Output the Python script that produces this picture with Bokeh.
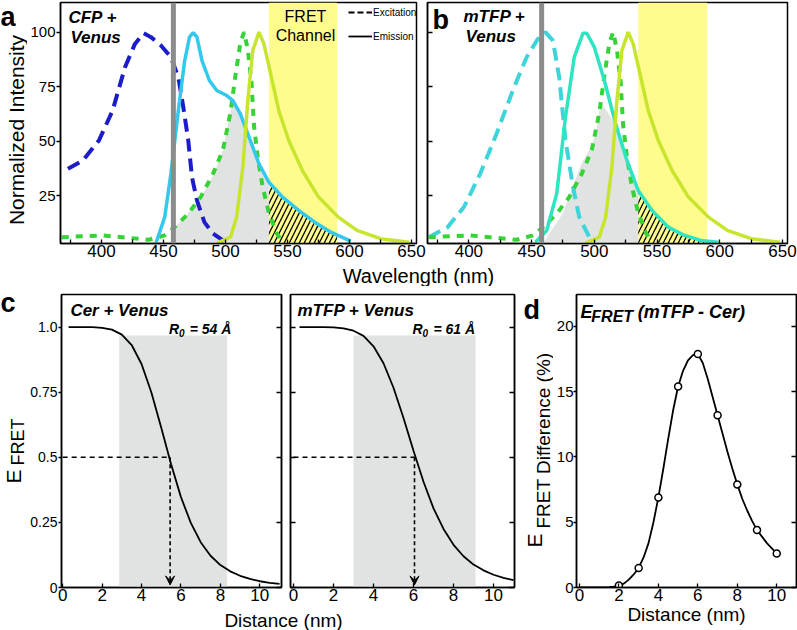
import math
from bokeh.plotting import figure
from bokeh.layouts import row, column
from bokeh.models import (Range1d, FixedTicker, LinearAxis, Label, Legend, LegendItem,
                          BoxAnnotation, Span, Arrow, VeeHead, CustomJSTickFormatter)
from bokeh.embed import file_html
from bokeh.resources import INLINE

FONT = "Liberation Sans"
NAN = float("nan")

# ---------------- data ----------------
cfp_ex_nm = [373, 385, 398, 409, 419, 427, 434, 440, 448, 456, 462, 466, 470, 473, 477, 483, 490, 498, 501]
cfp_ex_val = [37.3, 41.1, 50.3, 64.0, 83.9, 94.6, 99.5, 97.7, 93.9, 88.5, 79.3, 65.6, 50.3, 33.4, 22.8, 12.8, 7.5, 4.4, 3.6]

cfp_em_nm = [444, 451, 456, 462, 467, 471, 474, 477, 481, 487, 493, 501, 506, 512, 520, 527, 535, 546, 559, 572, 585, 601]
cfp_em_val = [3.2, 15.1, 35.0, 64.0, 86.5, 97.7, 99.8, 97.7, 87.0, 77.8, 73.2, 70.9, 68.6, 62.5, 50.3, 39.6, 31.1, 24.3, 18.2, 12.8, 8.2, 4.1]

venus_ex_nm = [368, 385, 401, 422, 438, 451, 459, 470, 480, 490, 498, 504, 508, 512, 515, 518, 521, 523, 526, 530, 535, 541, 546]
venus_ex_val = [5.9, 6.3, 6.7, 5.6, 4.7, 6.7, 10.5, 16.7, 24.3, 35.0, 46.0, 63.0, 80.0, 95.0, 100.0, 92.0, 77.0, 57.0, 42.6, 28.9, 17.0, 8.0, 3.6]

venus_em_nm = [493, 504, 509, 514, 518, 522, 527, 531, 537, 543, 551, 562, 575, 591, 606, 625, 648]
venus_em_val = [3.2, 5.9, 15.1, 38.0, 68.6, 91.6, 100.0, 94.6, 79.3, 64.0, 50.3, 36.5, 24.3, 15.1, 9.0, 5.2, 3.6]

mtfp_ex_nm = [368, 383, 396, 409, 422, 436, 446, 455, 461, 467, 472, 477, 483, 488, 496, 501]
mtfp_ex_val = [5.9, 10.5, 19.7, 35.0, 53.3, 74.7, 88.5, 96.9, 100.0, 96.1, 79.3, 50.3, 28.9, 15.1, 5.9, 4.1]

mtfp_em_nm = [453, 462, 470, 477, 484, 491, 494, 500, 508, 517, 526, 535, 546, 559, 572, 585, 599]
mtfp_em_val = [3.6, 9.0, 25.8, 61.0, 88.5, 99.5, 99.5, 93.1, 77.8, 57.9, 41.1, 27.3, 18.2, 10.5, 6.7, 4.4, 3.6]

overlap_a_nm = [458, 465, 470, 480, 490, 498, 504, 506, 512, 520, 527, 535]
overlap_a_val = [9.5, 14, 17, 24, 34, 46, 64, 68.6, 62.5, 50.3, 39.6, 29]
bleed_a_nm = [535, 546, 559, 572, 585, 590]
bleed_a_val = [31.1, 24.3, 18.2, 12.8, 8.2, 6.8]

overlap_b_nm = [458, 467, 475, 482, 490, 496, 501, 505, 512, 519, 527, 535]
overlap_b_val = [2, 10, 17, 28, 40, 46, 53, 68, 62, 55, 40, 28]
bleed_b_nm = [535, 546, 559, 572, 585, 590]
bleed_b_val = [27.3, 18.2, 10.5, 6.7, 4.4, 4.0]

laser_nm = 458
fret_channel = (535, 590)
wl_ticks = [400, 450, 500, 550, 600, 650]
wl_minor = [375, 425, 475, 525, 575, 625]
int_ticks = [25, 50, 75, 100]

dist = [0.3, 0.5, 1.0, 1.5, 2.0, 2.5, 3.0, 3.5, 4.0, 4.5, 5.0, 5.5, 6.0, 6.5, 7.0, 7.5, 8.0, 8.5, 9.0, 9.5, 10.0, 10.5, 11.0]
eff_cer = [1.000, 1.000, 1.000, 0.9995, 0.997, 0.990, 0.971, 0.931, 0.858, 0.749, 0.613, 0.473, 0.347, 0.248, 0.174, 0.122, 0.086, 0.062, 0.045, 0.033, 0.024, 0.018, 0.014]
eff_mtfp = [1.000, 1.000, 1.000, 1.000, 0.999, 0.995, 0.986, 0.966, 0.926, 0.861, 0.767, 0.651, 0.525, 0.406, 0.304, 0.225, 0.164, 0.120, 0.088, 0.066, 0.049, 0.037, 0.028]
half_eff = 0.5
half_dist_cer = 5.45
half_dist_mtfp = 6.05
band_cer = (2.87, 8.34)
band_mtfp = (3.0, 9.1)
band_top = 0.968
dist_ticks = [0, 2, 4, 6, 8, 10]
eff_ticks = [0, 0.25, 0.5, 0.75, 1.0]

diff_pts_x = [2, 3, 4, 5, 6, 7, 8, 9, 10]
diff_pts_y = [0.15, 1.5, 6.9, 15.4, 17.9, 13.2, 7.9, 4.4, 2.6]
diff_curve_x = [0, 0.5, 1, 1.5, 1.75, 2, 2.25, 2.5, 2.75, 3, 3.25, 3.5, 3.75, 4, 4.25, 4.5, 4.75, 5, 5.25, 5.5,
                5.75, 6, 6.25, 6.5, 6.75, 7, 7.25, 7.5, 7.75, 8, 8.25, 8.5, 8.75, 9, 9.25, 9.5, 9.75, 10]
diff_curve_y = [0, 0, 0, 0.02, 0.06, 0.15, 0.3, 0.6, 1.0, 1.5, 2.3, 3.4, 5.0, 6.9, 9.1, 11.4, 13.6, 15.4, 16.6, 17.4,
                17.8, 17.9, 17.2, 16.0, 14.6, 13.2, 11.8, 10.4, 9.1, 7.9, 6.8, 5.9, 5.1, 4.4, 3.9, 3.4, 3.0, 2.6]
diff_ticks = [0, 5, 10, 15, 20]

# ---------------- colours ----------------
C_BLUE = "#1C1CCB"
C_CYAN = "#33C8EC"
C_GREEN = "#35D335"
C_YG = "#C8E52E"
C_TURQ = "#3DD5DA"
C_TEAL = "#2EE5C2"
C_GREYFILL = "#E1E2E2"
C_YELLOW = "#FFFB8D"
C_LASER = "#8C8C8C"

# ---------------- layout geometry (page pixels of each frame) ----------------
# spec: (frame left, top, right, bottom, x0, x1, y0, y1)
WL_RANGE = (367, 654)
INT_RANGE = (3.0, 113.6)
EFF_RANGE = (0, 1.125)
SPEC_A = (57, 2, 416, 243) + WL_RANGE + INT_RANGE
SPEC_B = (427, 2, 787, 243) + WL_RANGE + INT_RANGE
SPEC_C1 = (58, 294, 281, 587, -0.06, 11.1) + EFF_RANGE
SPEC_C2 = (290, 294, 514, 587, -0.15, 11.05) + EFF_RANGE
SPEC_D = (573, 294, 796, 587, -0.15, 11.0, 0, 22.45)


def strip_spec(left, top, right, bottom):
    return (left, top, right, bottom, 0, right - left, 0, bottom - top)


# text strips: their frames line up with the frames of their row neighbours
SPEC_SA = strip_spec(0, 2, 27, 243)
SPEC_ST = strip_spec(0, 263, 797, 286)
SPEC_SCL = strip_spec(0, 294, 27, 587)
SPEC_SC = strip_spec(0, 608, 518, 630)
SPEC_SDL = strip_spec(518, 294, 553, 587)

BASE_SHIFT = 0.31  # rendered baseline sits this many em below the label anchor


def dx(spec, px):
    L, T, R, B, x0, x1, y0, y1 = spec
    return x0 + (px - L) * (x1 - x0) / (R - L)


def dy(spec, py):
    L, T, R, B, x0, x1, y0, y1 = spec
    return y0 + (B - py) * (y1 - y0) / (B - T)


def make_fig(spec, width, height, bl, br, bt, bb):
    L, T, R, B, x0, x1, y0, y1 = spec
    p = figure(width=width, height=height, x_range=Range1d(x0, x1), y_range=Range1d(y0, y1),
               output_backend="svg", toolbar_location=None,
               min_border_left=bl, min_border_right=br, min_border_top=bt, min_border_bottom=bb)
    p.grid.visible = False
    p.outline_line_color = "black"
    p.outline_line_width = 1.5
    p.outline_line_alpha = 1
    p.background_fill_color = "white"
    p.border_fill_color = "white"
    return p


def make_strip(spec, width, height, bt=0, bb=0):
    L, T, R, B, x0, x1, y0, y1 = spec
    s = figure(width=width, height=height, x_range=Range1d(x0, x1), y_range=Range1d(y0, y1),
               x_axis_type=None, y_axis_type=None, output_backend="svg", toolbar_location=None,
               min_border_left=0, min_border_right=0, min_border_top=bt, min_border_bottom=bb,
               outline_line_color=None)
    s.grid.visible = False
    s.background_fill_color = "white"
    s.border_fill_color = "white"
    return s


def style_axis(ax, ticks, minor=None, labels=True, tick_in=0, tick_out=4, fs="16px", fmt=None, standoff=1):
    ax.ticker = FixedTicker(ticks=ticks, minor_ticks=minor or [])
    ax.major_tick_in = tick_in
    ax.major_tick_out = tick_out
    ax.minor_tick_in = tick_in if minor else 0
    ax.minor_tick_out = tick_out if minor else 0
    ax.major_tick_line_width = 1.3
    ax.minor_tick_line_width = 1.3
    ax.major_tick_line_color = "black"
    ax.minor_tick_line_color = "black"
    ax.axis_line_width = 1.5
    ax.axis_line_color = "black"
    ax.major_label_text_font = FONT
    ax.major_label_text_font_size = fs
    ax.major_label_text_color = "black"
    ax.major_label_standoff = standoff if labels else 0
    if not labels:
        ax.formatter = CustomJSTickFormatter(code="return ''")
    elif fmt is not None:
        ax.formatter = CustomJSTickFormatter(code=fmt)


def add_side_ticks(p, side, ticks):
    ax = LinearAxis()
    p.add_layout(ax, side)
    style_axis(ax, ticks, labels=False, tick_in=5, tick_out=0)
    return ax


def lab(p, spec, text, px, py, size, style="normal", rotated=False, align="left"):
    # (px, py): wanted baseline position in page pixels
    if rotated:
        px = px - BASE_SHIFT * size
    else:
        py = py - BASE_SHIFT * size
    p.add_layout(Label(x=dx(spec, px), y=dy(spec, py), text=text,
                       angle=math.pi / 2 if rotated else 0,
                       text_align=align, text_baseline="alphabetic", text_line_height=1.0,
                       text_font=FONT, text_font_size=f"{size}px", text_font_style=style,
                       text_color="black"))


def spectra_panel(p, don_ex_x, don_ex_y, don_ex_c, don_em_x, don_em_y, don_em_c,
                  ov_x, ov_y, bl_x, bl_y):
    p.add_layout(BoxAnnotation(left=fret_channel[0], right=fret_channel[1], fill_color=C_YELLOW,
                               fill_alpha=1, line_color=None, level="underlay"))
    p.varea(x=ov_x, y1=0, y2=ov_y, fill_color=C_GREYFILL)
    p.varea(x=bl_x, y1=0, y2=bl_y, fill_color=None, fill_alpha=0, hatch_pattern="/",
            hatch_color="black", hatch_scale=10, hatch_weight=1.3)
    p.line(don_ex_x, don_ex_y, line_color=don_ex_c, line_width=4, line_dash="13 7")
    p.line(venus_ex_nm, venus_ex_val, line_color=C_GREEN, line_width=4, line_dash="7 7")
    p.line(don_em_x, don_em_y, line_color=don_em_c, line_width=3.5)
    p.line(venus_em_nm, venus_em_val, line_color=C_YG, line_width=3.5)
    p.add_layout(Span(location=laser_nm, dimension="height", line_color=C_LASER, line_width=5))


# ---------------- row 1 ----------------
sa = make_strip(SPEC_SA, 27, 263, bt=2, bb=20)
lab(sa, SPEC_SA, "a", 0, 24.5, 27, "bold")
lab(sa, SPEC_SA, "Normalized Intensity", 22.3, 129.5, 21, rotated=True, align="center")

pa = make_fig(SPEC_A, 399, 263, 30, 10, 2, 20)
style_axis(pa.xaxis[0], wl_ticks, wl_minor, tick_in=4, tick_out=0, fs="17px")
style_axis(pa.yaxis[0], int_ticks, tick_in=0, tick_out=4, fs="15px")
spectra_panel(pa, cfp_ex_nm, cfp_ex_val, C_BLUE, cfp_em_nm, cfp_em_val, C_CYAN,
              overlap_a_nm, overlap_a_val, bleed_a_nm, bleed_a_val)
lab(pa, SPEC_A, "CFP +", 65, 22, 17, "bold italic")
lab(pa, SPEC_A, "Venus", 67, 42, 17, "bold italic")
lab(pa, SPEC_A, "FRET", 304, 21, 16, align="center")
lab(pa, SPEC_A, "Channel", 304, 40, 16, align="center")
ex_proxy = pa.line(x=[NAN, NAN], y=[NAN, NAN], line_color="black", line_width=1.8, line_dash="6 3")
em_proxy = pa.line(x=[NAN, NAN], y=[NAN, NAN], line_color="black", line_width=1.8)
leg = Legend(items=[LegendItem(label="Excitation", renderers=[ex_proxy]),
                    LegendItem(label="Emission", renderers=[em_proxy])],
             location=(345 - 57, 243 - 2 - 43), glyph_width=24, glyph_height=18, label_height=18,
             spacing=6, padding=0, margin=0, label_standoff=1, label_text_font=FONT,
             label_text_font_size="10px", label_text_color="black",
             border_line_color=None, background_fill_alpha=0)
pa.add_layout(leg)

pb = make_fig(SPEC_B, 371, 263, 1, 10, 2, 20)
style_axis(pb.xaxis[0], wl_ticks, wl_minor, tick_in=4, tick_out=0, fs="17px")
style_axis(pb.yaxis[0], int_ticks, labels=False, tick_in=5, tick_out=0)
spectra_panel(pb, mtfp_ex_nm, mtfp_ex_val, C_TURQ, mtfp_em_nm, mtfp_em_val, C_TEAL,
              overlap_b_nm, overlap_b_val, bleed_b_nm, bleed_b_val)
lab(pb, SPEC_B, "b", 432, 27.5, 27, "bold")
lab(pb, SPEC_B, "mTFP +", 463, 21, 17, "bold italic")
lab(pb, SPEC_B, "Venus", 465, 41, 17, "bold italic")

st = make_strip(SPEC_ST, 797, 23)
lab(st, SPEC_ST, "Wavelength (nm)", 418, 281.5, 20, align="center")

# ---------------- panels c ----------------
eff_fmt = "return tick == 0 ? '0' : (tick == 1 ? '1.0' : tick.toString());"


def efficiency_panel(p, spec, eff, half_d, band, name, r0, name_px, r_px, labels_left):
    style_axis(p.xaxis[0], dist_ticks, tick_in=4, tick_out=0, fs="17px")
    if labels_left:
        style_axis(p.yaxis[0], eff_ticks, tick_in=0, tick_out=3, fs="14px", fmt=eff_fmt)
    else:
        style_axis(p.yaxis[0], eff_ticks, labels=False, tick_in=5, tick_out=0)
    add_side_ticks(p, "right", eff_ticks)
    p.add_layout(BoxAnnotation(left=band[0], right=band[1], bottom=0, top=band_top,
                               fill_color=C_GREYFILL, fill_alpha=1, line_color=None, level="underlay"))
    p.line([0, half_d], [half_eff, half_eff], line_color="black", line_width=1.4, line_dash="5 4")
    p.add_layout(Arrow(end=VeeHead(size=9, fill_color="black", line_color="black", line_width=1),
                       x_start=half_d, y_start=half_eff, x_end=half_d, y_end=0.01,
                       line_color="black", line_width=1.6, line_dash="4 3"))
    p.line(dist, eff, line_color="black", line_width=1.8)
    lab(p, spec, name, name_px, 315, 17, "bold italic")
    lab(p, spec, "R", r_px, 333, 14, "bold italic")
    lab(p, spec, "0", r_px + 10, 336, 10, "bold italic")
    lab(p, spec, r0, r_px + 21, 333, 14, "bold italic")


scl = make_strip(SPEC_SCL, 27, 322, bt=8, bb=21)
lab(scl, SPEC_SCL, "c", 0, 311, 27, "bold")
lab(scl, SPEC_SCL, "E", 19.5, 483, 21, rotated=True)
lab(scl, SPEC_SCL, "FRET", 23, 465, 18, rotated=True)

c1 = make_fig(SPEC_C1, 258, 322, 31, 4, 8, 21)
efficiency_panel(c1, SPEC_C1, eff_cer, half_dist_cer, band_cer, "Cer + Venus", "= 54 Å", 67, 167, True)

c2 = make_fig(SPEC_C2, 233, 322, 5, 4, 8, 21)
efficiency_panel(c2, SPEC_C2, eff_mtfp, half_dist_mtfp, band_mtfp, "mTFP + Venus", "= 61 Å", 297, 412, False)

sc = make_strip(SPEC_SC, 518, 22)
lab(sc, SPEC_SC, "Distance (nm)", 283, 625.5, 19, align="center")

# ---------------- panel d ----------------
sdl = make_strip(SPEC_SDL, 35, 344, bt=8, bb=43)
lab(sdl, SPEC_SDL, "d", 523, 318, 27, "bold")
lab(sdl, SPEC_SDL, "E", 541, 547, 21, rotated=True)
lab(sdl, SPEC_SDL, "FRET Difference (%)", 549, 528, 19, rotated=True)

pd_ = make_fig(SPEC_D, 244, 344, 20, 1, 8, 43)
style_axis(pd_.xaxis[0], dist_ticks, tick_in=4, tick_out=0, fs="17px")
style_axis(pd_.yaxis[0], diff_ticks, tick_in=0, tick_out=3, fs="15px", standoff=0)
add_side_ticks(pd_, "right", diff_ticks)
pd_.xaxis.axis_label = "Distance (nm)"
pd_.xaxis.axis_label_text_font = FONT
pd_.xaxis.axis_label_text_font_size = "19px"
pd_.xaxis.axis_label_text_font_style = "normal"
pd_.xaxis.axis_label_text_color = "black"
pd_.xaxis.axis_label_standoff = 0
pd_.line(diff_curve_x, diff_curve_y, line_color="black", line_width=1.8)
pd_.scatter(diff_pts_x, diff_pts_y, marker="circle", size=7, fill_color="white",
            line_color="black", line_width=1.5)
lab(pd_, SPEC_D, "E", 577, 317, 18, "bold italic")
lab(pd_, SPEC_D, "FRET", 588, 321, 16, "bold italic")
lab(pd_, SPEC_D, "(mTFP - Cer)", 635, 317, 18, "bold italic")

layout = column(row(sa, pa, pb), st,
                row(column(row(scl, c1, c2), sc), sdl, pd_))

open("out.html", "w").write(file_html(layout, INLINE))
